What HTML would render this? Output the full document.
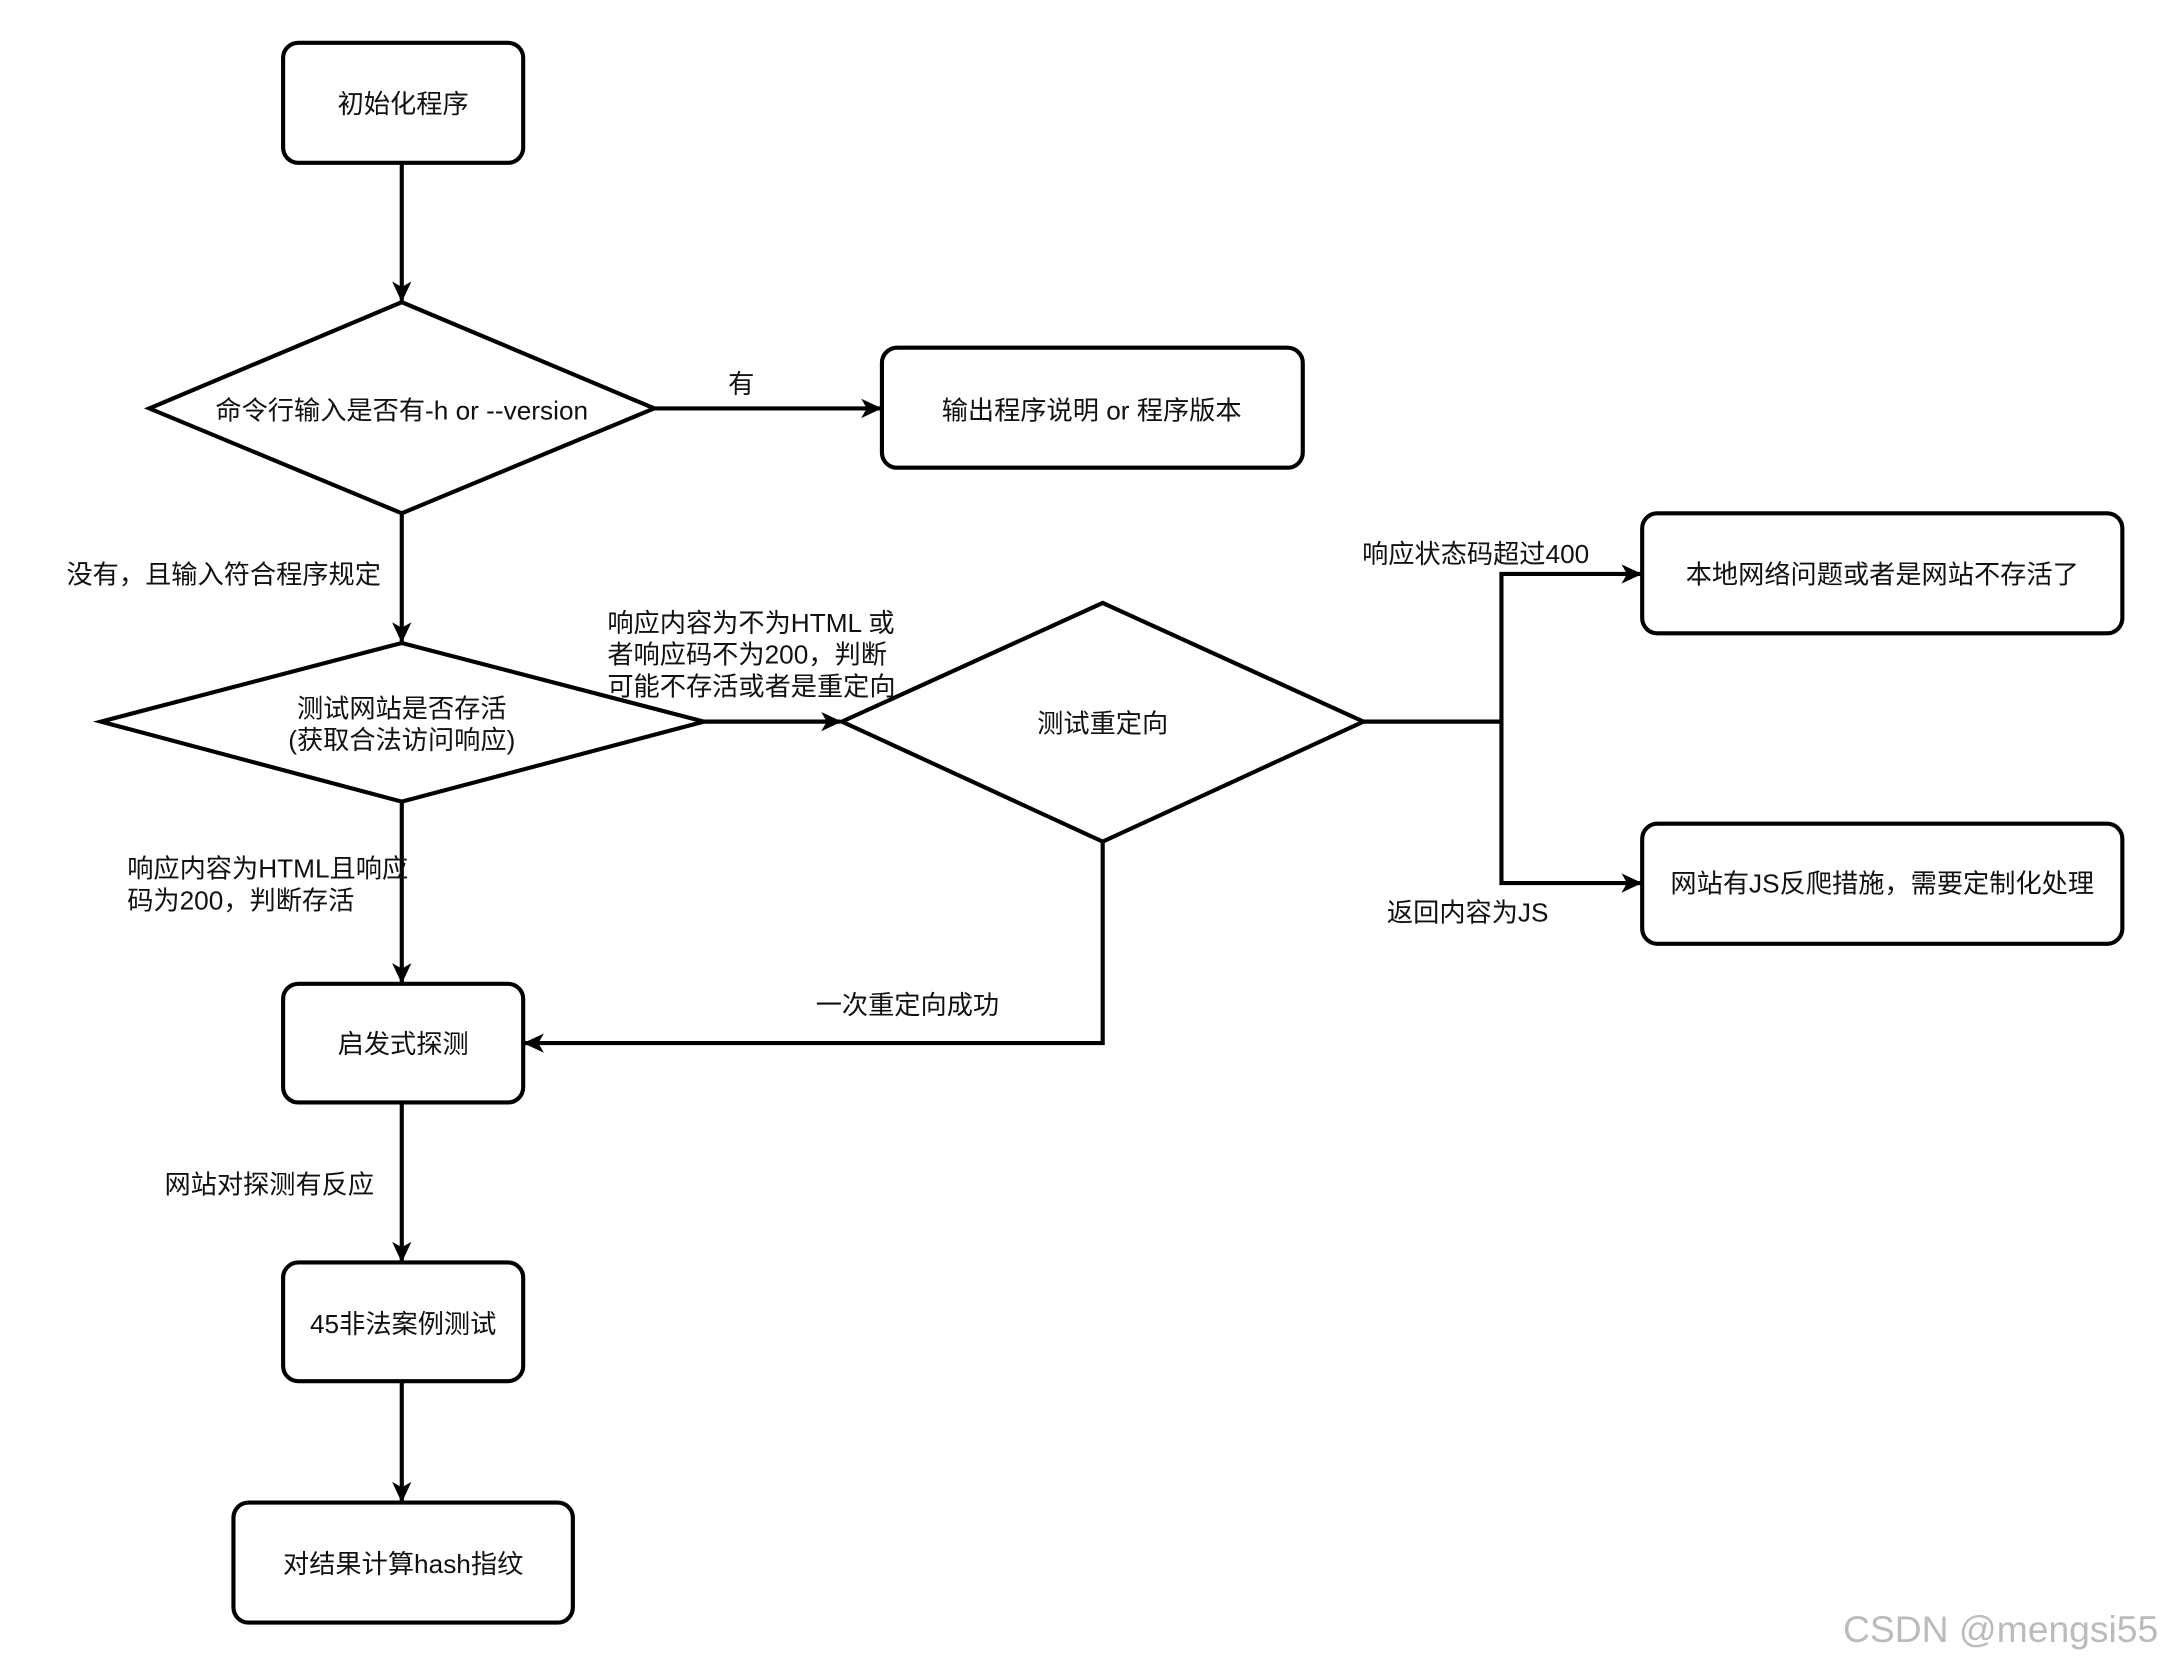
<!DOCTYPE html>
<html><head><meta charset="utf-8"><style>
html,body{margin:0;padding:0;background:#fff;}
svg{display:block;}
text{font-family:"Liberation Sans","Noto Sans CJK SC",sans-serif;font-size:19px;fill:#111;}
</style></head><body>
<svg width="2164" height="1664" viewBox="0 0 1568 1206" xmlns="http://www.w3.org/2000/svg">
<defs><marker id="a" markerWidth="10" markerHeight="10" refX="8" refY="5" orient="auto" markerUnits="userSpaceOnUse" viewBox="0 0 10 10"><path d="M0,0 L10,5 L0,10 L2.5,5 z" fill="#000"/></marker>
<marker id="b" markerWidth="16" markerHeight="16" refX="14" refY="8" orient="auto" markerUnits="userSpaceOnUse"><path d="M0,1 L15,8 L0,15 L4,8 z" fill="#000"/></marker></defs>
<g fill="none" stroke="#000" stroke-width="3">
<rect x="205" y="31" width="174" height="87" rx="11"/>
<rect x="639" y="252" width="305" height="87" rx="11"/>
<rect x="1190" y="372" width="348" height="87" rx="11"/>
<rect x="1190" y="597" width="348" height="87" rx="11"/>
<rect x="205" y="713" width="174" height="86" rx="11"/>
<rect x="205" y="915" width="174" height="86" rx="11"/>
<rect x="169" y="1089" width="246" height="87" rx="11"/>
<polygon points="108,296 291,219 474,296 291,372"/>
<polygon points="73,523 291,466 510,523 291,581"/>
<polygon points="610,523 799,437 988,523 799,610"/>
<g marker-end="url(#b)">
<line x1="291" y1="118" x2="291" y2="218"/>
<line x1="474" y1="296" x2="638" y2="296"/>
<line x1="291" y1="372" x2="291" y2="465"/>
<line x1="510" y1="523" x2="609" y2="523"/>
<polyline points="988,523 1088,523 1088,416 1189,416"/>
<polyline points="1088,523 1088,640 1189,640"/>
<polyline points="799,610 799,756 380,756"/>
<line x1="291" y1="581" x2="291" y2="712"/>
<line x1="291" y1="799" x2="291" y2="914"/>
<line x1="291" y1="1001" x2="291" y2="1088"/>
</g></g>
<g text-anchor="middle">
<text x="292" y="82">初始化程序</text>
<text x="291" y="304">命令行输入是否有-h or --version</text>
<text x="791" y="304">输出程序说明 or 程序版本</text>
<text x="291" y="520">测试网站是否存活</text>
<text x="291" y="543">(获取合法访问响应)</text>
<text x="799" y="531">测试重定向</text>
<text x="1364" y="423">本地网络问题或者是网站不存活了</text>
<text x="1364" y="647">网站有JS反爬措施，需要定制化处理</text>
<text x="292" y="763">启发式探测</text>
<text x="292" y="966">45非法案例测试</text>
<text x="292" y="1140">对结果计算hash指纹</text>
<text x="537" y="285">有</text>
</g>
<text x="48" y="423">没有，且输入符合程序规定</text>
<text x="440" y="458">响应内容为不为HTML 或</text>
<text x="440" y="481">者响应码不为200，判断</text>
<text x="440" y="504">可能不存活或者是重定向</text>
<text x="987" y="408">响应状态码超过400</text>
<text x="1005" y="668">返回内容为JS</text>
<text x="591" y="735">一次重定向成功</text>
<text x="92" y="636">响应内容为HTML且响应</text>
<text x="92" y="659">码为200，判断存活</text>
<text x="119" y="865">网站对探测有反应</text>
<text x="1564" y="1190" text-anchor="end" style="font-size:27px;fill:#bbb">CSDN @mengsi55</text>
</svg>
</body></html>
